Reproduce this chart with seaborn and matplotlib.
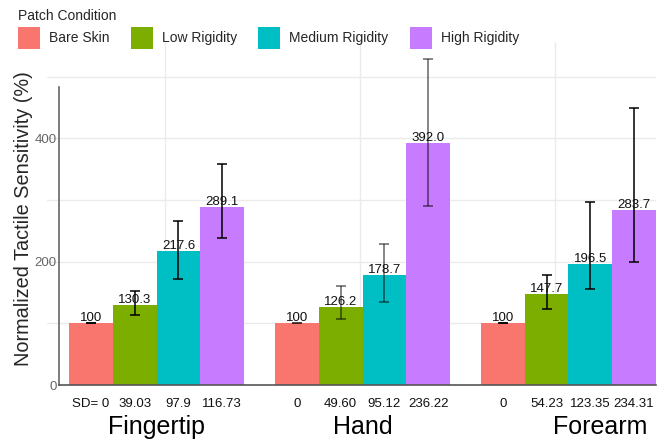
import numpy as np
import pandas as pd
import matplotlib
matplotlib.use("Agg")
import matplotlib.pyplot as plt
import seaborn as sns

# ---- data -------------------------------------------------------------
sites = ["Fingertip", "Hand", "Forearm"]
conditions = ["Bare Skin", "Low Rigidity", "Medium Rigidity", "High Rigidity"]

bare_skin = [100, 100, 100]
low_rigidity = [130.3, 126.2, 147.7]
medium_rigidity = [217.6, 178.7, 196.5]
high_rigidity = [289.1, 392.0, 283.7]

# error-bar ends (lower, upper) per condition, one value per site
err_low = {
    "Bare Skin": [100, 100, 100],
    "Low Rigidity": [113.4, 107.5, 123.7],
    "Medium Rigidity": [171.3, 134.0, 155.0],
    "High Rigidity": [237.7, 290.0, 198.8],
}
err_high = {
    "Bare Skin": [100, 100, 100],
    "Low Rigidity": [152.7, 161.0, 178.3],
    "Medium Rigidity": [265.8, 228.0, 296.6],
    "High Rigidity": [357.6, 529.0, 449.4],
}

# standard deviations printed under each bar
sd_fingertip = ["SD= 0", "39.03", "97.9", "116.73"]
sd_hand = ["0", "49.60", "95.12", "236.22"]
sd_forearm = ["0", "54.23", "123.35", "234.31"]

palette = ["#F8766D", "#7CAE00", "#00BFC4", "#C77CFF"]

values = {
    "Bare Skin": bare_skin,
    "Low Rigidity": low_rigidity,
    "Medium Rigidity": medium_rigidity,
    "High Rigidity": high_rigidity,
}
df = pd.DataFrame(
    [(s, c, values[c][i]) for c in conditions for i, s in enumerate(sites)],
    columns=["site", "condition", "value"],
)
sd_table = [sd_fingertip, sd_hand, sd_forearm]

# ---- figure -----------------------------------------------------------
sns.set_theme(style="white")
plt.rcParams["font.family"] = ["Liberation Sans", "DejaVu Sans"]

fig = plt.figure(figsize=(6.67, 4.40), dpi=100)
ax = fig.add_axes([47 / 667, 55 / 440, 609 / 667, 343 / 440])

sns.barplot(
    data=df, x="site", y="value", hue="condition",
    order=sites, hue_order=conditions, palette=palette,
    width=0.85, errorbar=None, saturation=1, linewidth=0,
    ax=ax, zorder=2,
)

ax.set_xlim(-0.532, 2.425)
ax.set_ylim(0, 556)

# grid
for yv in [100, 200, 300, 400, 500]:
    ax.axhline(yv, color="#ebebeb", lw=1.0, zorder=0)
grid_x = [0.039, 0.986, 1.934]
for xv in grid_x:
    ax.axvline(xv, color="#ebebeb", lw=1.0, zorder=0)

# spines
for side in ["top", "right"]:
    ax.spines[side].set_visible(False)
ax.spines["left"].set_position(("data", -0.474))
ax.spines["left"].set_bounds(0, 483)
ax.spines["left"].set_color("#666666")
ax.spines["left"].set_linewidth(1.2)
ax.spines["bottom"].set_bounds(-0.474, 2.425)
ax.spines["bottom"].set_color("#555555")
ax.spines["bottom"].set_linewidth(1.2)

ax.set_yticks([0, 200, 400])
ax.tick_params(axis="y", length=0, pad=1.5, labelsize=9.5, labelcolor="#666666")
ax.set_xticks(grid_x)
ax.set_xticklabels([])
ax.tick_params(axis="x", length=4, color="#d0d0d0", width=1)

ax.set_xlabel("")
ax.set_ylabel("Normalized Tactile Sensitivity (%)", fontsize=14.3)
ax.yaxis.set_label_coords(-0.023, 0.485)

# error bars and value labels
err_alpha = [1.0, 0.6, 1.0]
for cond, container in zip(conditions, ax.containers):
    for i, bar in enumerate(container):
        cx = bar.get_x() + bar.get_width() / 2
        h = bar.get_height()
        lo, hi = err_low[cond][i], err_high[cond][i]
        ax.errorbar(cx, h, yerr=[[h - lo], [hi - h]], fmt="none",
                    ecolor="black", elinewidth=1.1, capsize=3.8,
                    capthick=1.1, alpha=err_alpha[i], zorder=3)
        label = f"{h:.0f}" if cond == "Bare Skin" else f"{h:.1f}"
        ax.annotate(label, (cx, h), xytext=(0, 1.5), textcoords="offset points",
                    ha="center", va="baseline", fontsize=9.5, color="#111111",
                    zorder=4)
        ax.text(cx, -22.5 / 0.617, sd_table[i][conditions.index(cond)],
                ha="center", va="baseline", fontsize=9.5, color="#111111",
                clip_on=False)

# site names
name_nudge = [0.0, 0.0, 0.155]
for i, s in enumerate(sites):
    ax.text(i + name_nudge[i], -49 / 0.617, s, ha="center", va="baseline",
            fontsize=18, color="black", clip_on=False)

# legend
sns.move_legend(
    ax, "upper left", bbox_to_anchor=(8 / 667, 1 + 1 / 440),
    bbox_transform=fig.transFigure, ncol=4, frameon=False,
    title="Patch Condition", title_fontsize=10, fontsize=10,
    handlelength=1.58, handleheight=2.06, handletextpad=0.65,
    columnspacing=1.55, alignment="left", borderpad=0.2, labelspacing=0.3,
)

fig.savefig("out.png", dpi=100)
